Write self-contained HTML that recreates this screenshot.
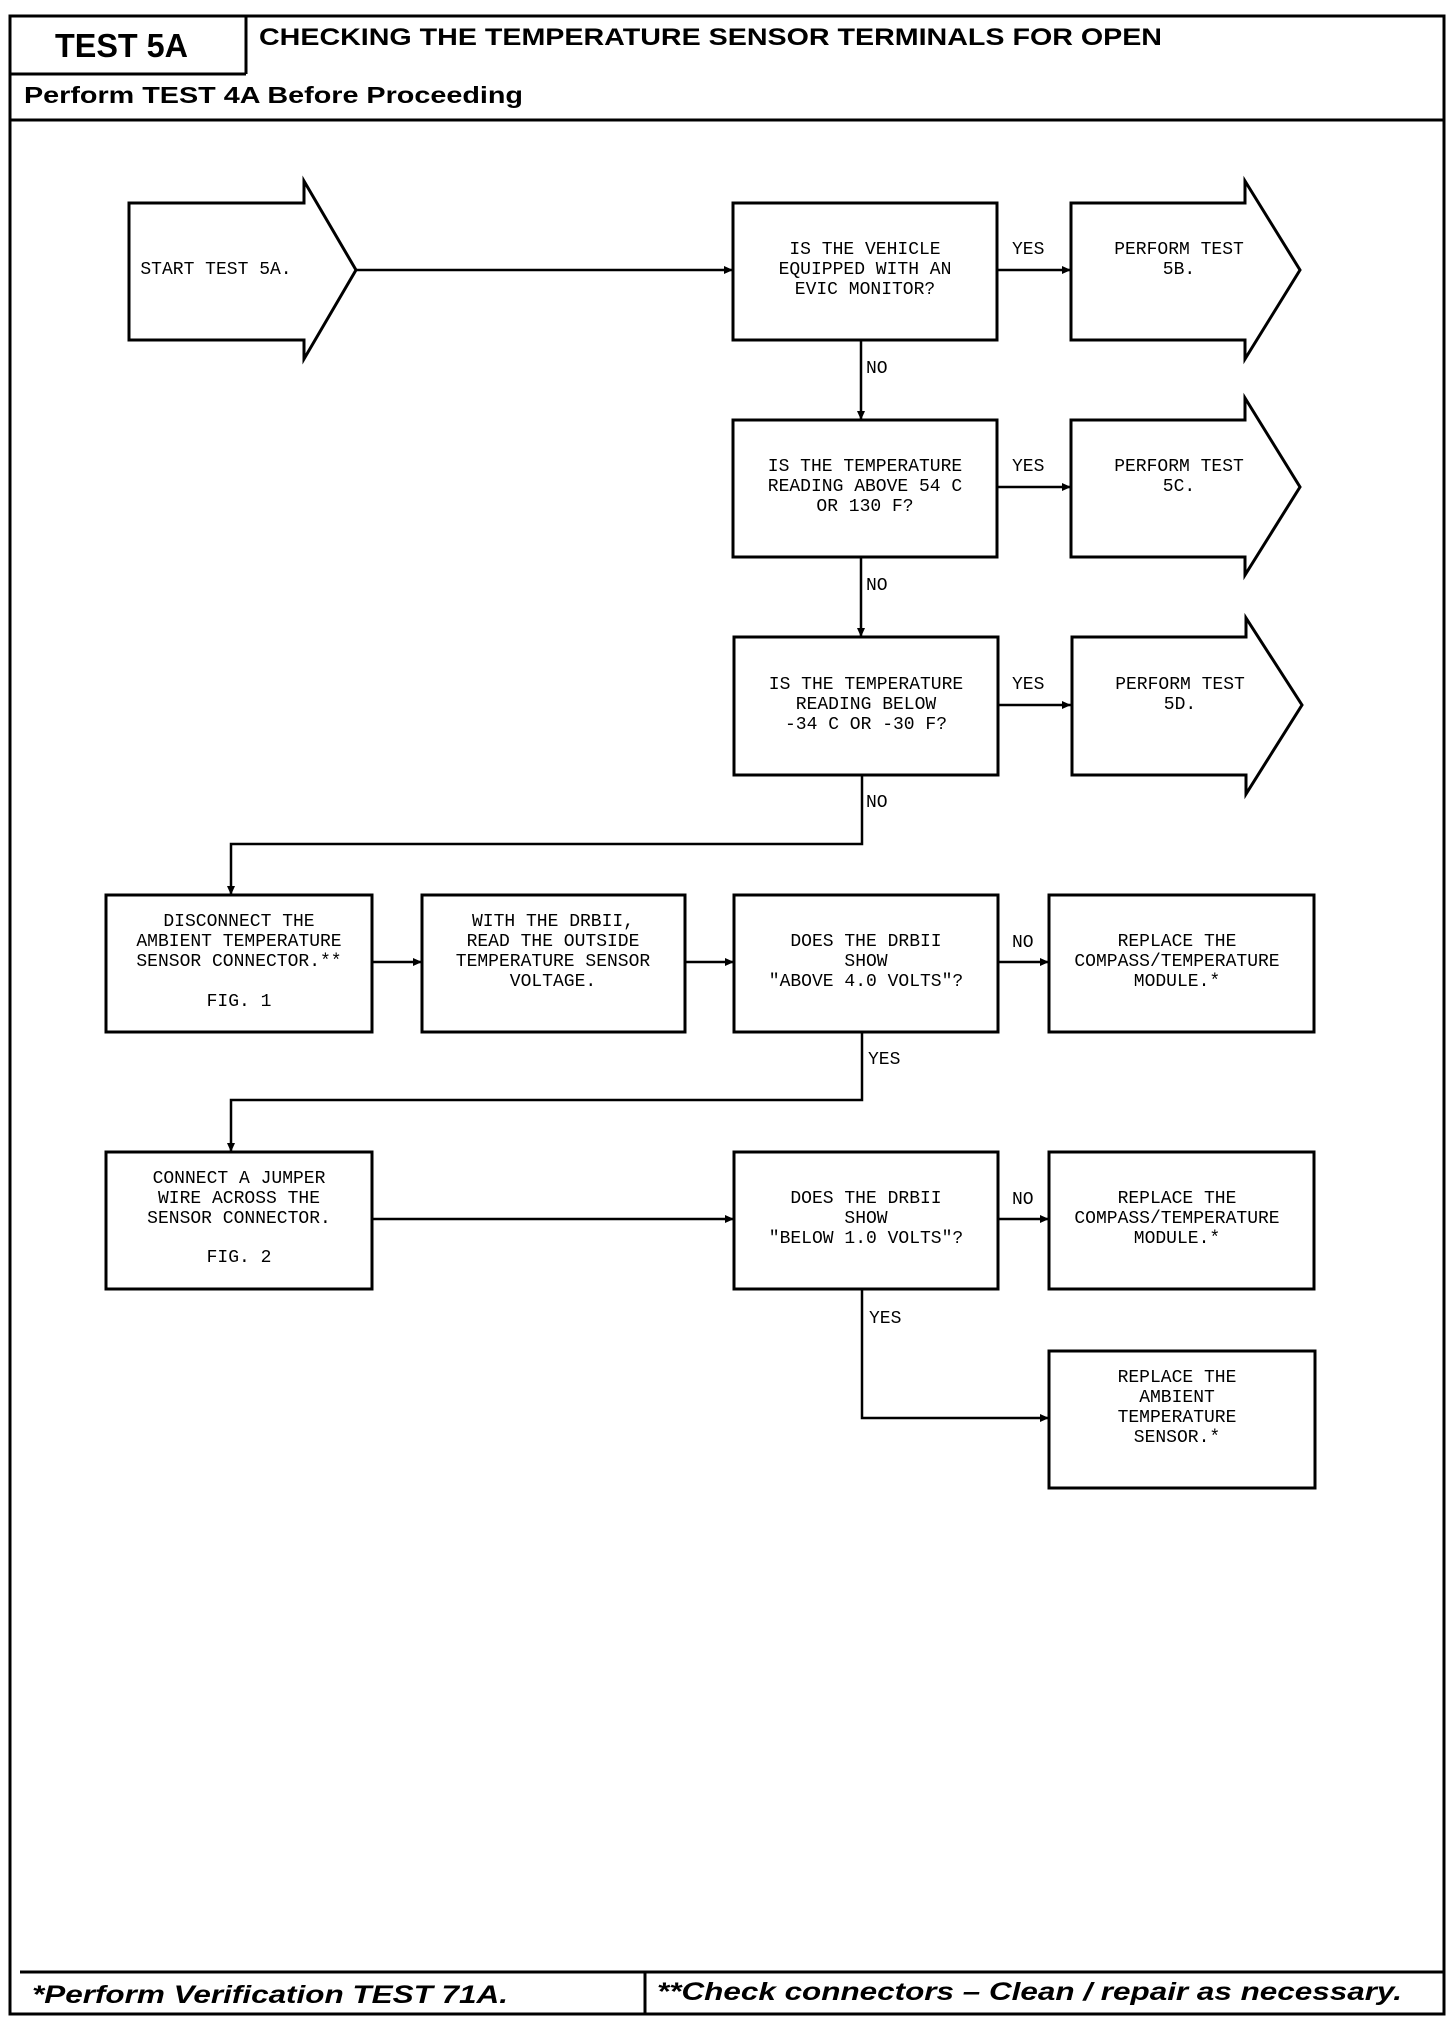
<!DOCTYPE html>
<html><head><meta charset="utf-8"><style>
html,body{margin:0;padding:0;background:#fff}
svg{display:block}
.m{font-family:"Liberation Mono",monospace;font-size:18px;fill:#000;text-anchor:middle;dominant-baseline:central}
.l{font-family:"Liberation Mono",monospace;font-size:18px;fill:#000;dominant-baseline:central}
.b{fill:none;stroke:#000;stroke-width:3}
.c{fill:none;stroke:#000;stroke-width:2.5}
</style></head><body>
<svg width="1456" height="2024" viewBox="0 0 1456 2024" xmlns="http://www.w3.org/2000/svg">
<defs><marker id="a" markerWidth="10" markerHeight="10" refX="9" refY="5" orient="auto" markerUnits="userSpaceOnUse"><path d="M0,1 L9,5 L0,9 Z" fill="#000"/></marker></defs>
<rect x="10" y="16" width="1434" height="1998" class="b"/>
<line x1="10" y1="74" x2="246" y2="74" class="b"/>
<line x1="246" y1="16" x2="246" y2="74" class="b"/>
<line x1="10" y1="120" x2="1444" y2="120" class="b"/>
<line x1="20" y1="1972" x2="1444" y2="1972" class="b"/>
<line x1="645" y1="1972" x2="645" y2="2014" class="b"/>
<text x="55" y="57" font-family="Liberation Sans,sans-serif" font-weight="bold" font-size="33" textLength="133" lengthAdjust="spacingAndGlyphs">TEST 5A</text>
<text x="259" y="45" font-family="Liberation Sans,sans-serif" font-weight="bold" font-size="24" textLength="903" lengthAdjust="spacingAndGlyphs">CHECKING THE TEMPERATURE SENSOR TERMINALS FOR OPEN</text>
<text x="24" y="103" font-family="Liberation Sans,sans-serif" font-weight="bold" font-size="23" textLength="499" lengthAdjust="spacingAndGlyphs">Perform TEST 4A Before Proceeding</text>
<text x="32" y="2003" font-family="Liberation Sans,sans-serif" font-weight="bold" font-style="italic" font-size="25" textLength="476" lengthAdjust="spacingAndGlyphs">*Perform Verification TEST 71A.</text>
<text x="657" y="2000" font-family="Liberation Sans,sans-serif" font-weight="bold" font-style="italic" font-size="25" textLength="745" lengthAdjust="spacingAndGlyphs">**Check connectors – Clean / repair as necessary.</text>

<path d="M304,203 L129,203 L129,340 L304,340 L304,359 L356,270 L304,181 Z" class="b"/>
<text class="m" x="216" y="270">START TEST 5A.</text>
<line x1="356" y1="270" x2="733" y2="270" class="c" marker-end="url(#a)"/>

<rect x="733" y="203" width="264" height="137" class="b"/>
<text class="m" x="865" y="250">IS THE VEHICLE</text>
<text class="m" x="865" y="270">EQUIPPED WITH AN</text>
<text class="m" x="865" y="290">EVIC MONITOR?</text>
<line x1="997" y1="270" x2="1071" y2="270" class="c" marker-end="url(#a)"/>
<text class="l" x="1012" y="250">YES</text>
<path d="M1245,203 L1071,203 L1071,340 L1245,340 L1245,359 L1300,270 L1245,181 Z" class="b"/>
<text class="m" x="1179" y="250">PERFORM TEST</text>
<text class="m" x="1179" y="270">5B.</text>
<line x1="861" y1="340" x2="861" y2="420" class="c" marker-end="url(#a)"/>
<text class="l" x="866" y="369">NO</text>

<rect x="733" y="420" width="264" height="137" class="b"/>
<text class="m" x="865" y="467">IS THE TEMPERATURE</text>
<text class="m" x="865" y="487">READING ABOVE 54 C</text>
<text class="m" x="865" y="507">OR 130 F?</text>
<line x1="997" y1="487" x2="1071" y2="487" class="c" marker-end="url(#a)"/>
<text class="l" x="1012" y="467">YES</text>
<path d="M1245,420 L1071,420 L1071,557 L1245,557 L1245,575 L1300,487 L1245,398 Z" class="b"/>
<text class="m" x="1179" y="467">PERFORM TEST</text>
<text class="m" x="1179" y="487">5C.</text>
<line x1="861" y1="557" x2="861" y2="637" class="c" marker-end="url(#a)"/>
<text class="l" x="866" y="586">NO</text>

<rect x="734" y="637" width="264" height="138" class="b"/>
<text class="m" x="866" y="685">IS THE TEMPERATURE</text>
<text class="m" x="866" y="705">READING BELOW</text>
<text class="m" x="866" y="725">-34 C OR -30 F?</text>
<line x1="998" y1="705" x2="1071" y2="705" class="c" marker-end="url(#a)"/>
<text class="l" x="1012" y="685">YES</text>
<path d="M1246,637 L1072,637 L1072,775 L1246,775 L1246,794 L1302,705 L1246,618 Z" class="b"/>
<text class="m" x="1180" y="685">PERFORM TEST</text>
<text class="m" x="1180" y="705">5D.</text>
<polyline points="862,775 862,844 231,844 231,895" class="c" marker-end="url(#a)"/>
<text class="l" x="866" y="803">NO</text>

<rect x="106" y="895" width="266" height="137" class="b"/>
<text class="m" x="239" y="922">DISCONNECT THE</text>
<text class="m" x="239" y="942">AMBIENT TEMPERATURE</text>
<text class="m" x="239" y="962">SENSOR CONNECTOR.**</text>
<text class="m" x="239" y="1002">FIG. 1</text>
<line x1="372" y1="962" x2="422" y2="962" class="c" marker-end="url(#a)"/>
<rect x="422" y="895" width="263" height="137" class="b"/>
<text class="m" x="553" y="922">WITH THE DRBII,</text>
<text class="m" x="553" y="942">READ THE OUTSIDE</text>
<text class="m" x="553" y="962">TEMPERATURE SENSOR</text>
<text class="m" x="553" y="982">VOLTAGE.</text>
<line x1="685" y1="962" x2="734" y2="962" class="c" marker-end="url(#a)"/>
<rect x="734" y="895" width="264" height="137" class="b"/>
<text class="m" x="866" y="942">DOES THE DRBII</text>
<text class="m" x="866" y="962">SHOW</text>
<text class="m" x="866" y="982">"ABOVE 4.0 VOLTS"?</text>
<line x1="998" y1="962" x2="1049" y2="962" class="c" marker-end="url(#a)"/>
<text class="l" x="1012" y="943">NO</text>
<rect x="1049" y="895" width="265" height="137" class="b"/>
<text class="m" x="1177" y="942">REPLACE THE</text>
<text class="m" x="1177" y="962">COMPASS/TEMPERATURE</text>
<text class="m" x="1177" y="982">MODULE.*</text>
<polyline points="862,1032 862,1100 231,1100 231,1152" class="c" marker-end="url(#a)"/>
<text class="l" x="868" y="1060">YES</text>

<rect x="106" y="1152" width="266" height="137" class="b"/>
<text class="m" x="239" y="1179">CONNECT A JUMPER</text>
<text class="m" x="239" y="1199">WIRE ACROSS THE</text>
<text class="m" x="239" y="1219">SENSOR CONNECTOR.</text>
<text class="m" x="239" y="1258">FIG. 2</text>
<line x1="372" y1="1219" x2="734" y2="1219" class="c" marker-end="url(#a)"/>
<rect x="734" y="1152" width="264" height="137" class="b"/>
<text class="m" x="866" y="1199">DOES THE DRBII</text>
<text class="m" x="866" y="1219">SHOW</text>
<text class="m" x="866" y="1239">"BELOW 1.0 VOLTS"?</text>
<line x1="998" y1="1219" x2="1049" y2="1219" class="c" marker-end="url(#a)"/>
<text class="l" x="1012" y="1200">NO</text>
<rect x="1049" y="1152" width="265" height="137" class="b"/>
<text class="m" x="1177" y="1199">REPLACE THE</text>
<text class="m" x="1177" y="1219">COMPASS/TEMPERATURE</text>
<text class="m" x="1177" y="1239">MODULE.*</text>
<polyline points="862,1289 862,1418 1049,1418" class="c" marker-end="url(#a)"/>
<text class="l" x="869" y="1319">YES</text>
<rect x="1049" y="1351" width="266" height="137" class="b"/>
<text class="m" x="1177" y="1378">REPLACE THE</text>
<text class="m" x="1177" y="1398">AMBIENT</text>
<text class="m" x="1177" y="1418">TEMPERATURE</text>
<text class="m" x="1177" y="1438">SENSOR.*</text>
</svg>
</body></html>
